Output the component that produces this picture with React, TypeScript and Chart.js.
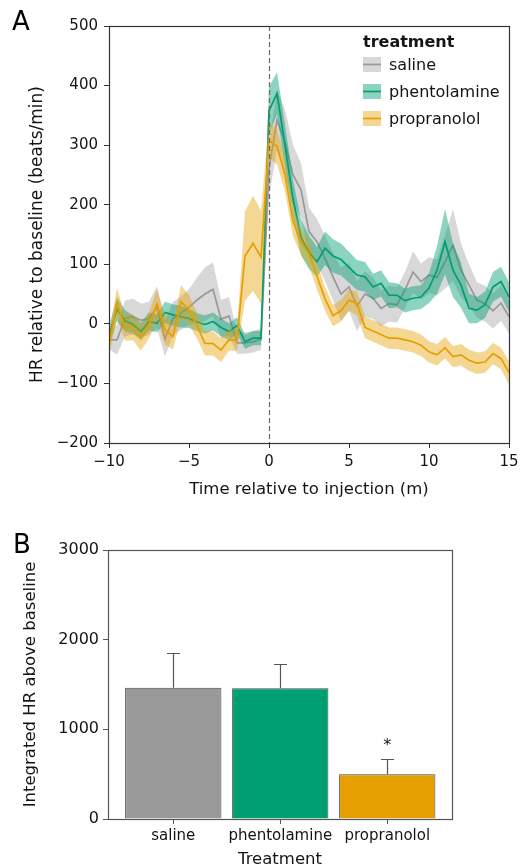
import React, { useEffect, useRef } from "react";
import { Chart, registerables } from "chart.js";
Chart.register(...registerables);

const FONT = "'DejaVu Sans', sans-serif";
const TEXT = "#141414";

// ---------- Panel A data ----------
const times = [
  -10, -9.5, -9, -8.5, -8, -7.5, -7, -6.5, -6, -5.5, -5, -4.5, -4, -3.5, -3, -2.5, -2, -1.5, -1, -0.5,
  0, 0.5, 1, 1.5, 2, 2.5, 3, 3.5, 4, 4.5, 5, 5.5, 6, 6.5, 7, 7.5, 8, 8.5, 9, 9.5,
  10, 10.5, 11, 11.5, 12, 12.5, 13, 13.5, 14, 14.5, 15,
];

const salineMean = [
  -27, -27, 9, 12, 6, 9, 28, -25, 9, 18, 28, 40, 50, 58, 8, 13, -32, -32, -30, -26,
  260, 342, 305, 250, 225, 155, 138, 110, 79, 50, 62, 30, 50, 43, 26, 34, 32, 57, 87, 71,
  82, 78, 104, 132, 90, 65, 40, 34, 22, 35, 12,
];
const salineErr = [
  15, 25, 30, 30, 28, 28, 35, 30, 28, 28, 30, 38, 45, 45, 32, 32, 18, 18, 18, 18,
  45, 50, 55, 50, 45, 40, 38, 38, 40, 45, 40, 42, 38, 35, 30, 30, 30, 30, 35, 30,
  30, 30, 45, 60, 45, 35, 30, 30, 30, 30, 28,
];

const phentolamineMean = [
  -20, 25, 5, -1, -13, 4, 1, 19, 15, 12, 9, 3, -1, 4, -6, -13, -3, -30, -24, -24,
  358, 387, 300, 210, 145, 120, 104, 127, 114, 108, 95, 82, 79, 62, 68, 48, 48, 39, 43, 45,
  60, 90, 138, 90, 65, 26, 23, 32, 62, 71, 45,
];
const phentolamineErr = [
  15, 20, 18, 15, 15, 15, 15, 18, 18, 18, 16, 15, 15, 15, 15, 14, 14, 12, 12, 12,
  40, 35, 35, 32, 30, 28, 25, 28, 28, 27, 26, 25, 25, 22, 22, 22, 20, 20, 20, 20,
  25, 40, 55, 45, 38, 25, 22, 22, 25, 25, 25,
];

const propranololMean = [
  -35, 35, -6, -6, -23, -2, 33, -10, -21, 37, 23, -3, -33, -33, -44, -27, -27, 114, 135, 112,
  308, 298, 250, 172, 137, 118, 80, 42, 14, 22, 40, 34, -6, -12, -18, -24, -24, -27, -30, -36,
  -47, -52, -40, -55, -52, -61, -66, -64, -50, -58, -82,
];
const propranololErr = [
  20, 25, 22, 22, 22, 22, 25, 25, 22, 28, 25, 22, 20, 20, 20, 18, 18, 75, 80, 78,
  30, 30, 28, 25, 22, 22, 22, 20, 18, 18, 18, 20, 18, 18, 18, 18, 18, 18, 18, 18,
  18, 18, 18, 18, 18, 18, 18, 18, 18, 18, 20,
];

const seriesNames = ["saline", "phentolamine", "propranolol"];
const xTicksA = [-10, -5, 0, 5, 10, 15];
const yTicksA = [-200, -100, 0, 100, 200, 300, 400, 500];

// ---------- Panel B data ----------
const barCategories = ["saline", "phentolamine", "propranolol"];
const barValues = [1464, 1457, 498];
const barErrors = [391, 275, 168];
const yTicksB = [0, 1000, 2000, 3000];

// ---------- styles ----------
const lineColors = ["#999999", "#009E73", "#E69F00"];
const bandColors = ["rgba(153,153,153,0.38)", "rgba(0,158,115,0.45)", "rgba(230,159,0,0.42)"];
const barColors = ["#999999", "#009E73", "#E69F00"];

const fmt = (v: number) => (v < 0 ? "\u2212" + Math.abs(v) : String(v));

function seriesSets(mean: number[], err: number[], idx: number, order: number) {
  const lo = times.map((t, i) => ({ x: t, y: mean[i] - err[i] }));
  const hi = times.map((t, i) => ({ x: t, y: mean[i] + err[i] }));
  const mid = times.map((t, i) => ({ x: t, y: mean[i] }));
  return [
    { data: lo, borderColor: "rgba(0,0,0,0)", borderWidth: 1, pointRadius: 0, fill: false, order: order + 1, tension: 0 },
    { data: hi, borderColor: "rgba(0,0,0,0)", borderWidth: 1, pointRadius: 0, fill: "-1", backgroundColor: bandColors[idx], order: order + 1, tension: 0 },
    { data: mid, borderColor: lineColors[idx], borderWidth: 1.7, pointRadius: 0, fill: false, order, tension: 0 },
  ];
}

const framePlugin = (color: string, width: number) => ({
  id: "frame",
  afterDraw(chart: any) {
    const { ctx, chartArea: a } = chart;
    ctx.save();
    ctx.strokeStyle = color;
    ctx.lineWidth = width;
    ctx.strokeRect(Math.round(a.left) + 0.5, Math.round(a.top) + 0.5, Math.round(a.right - a.left), Math.round(a.bottom - a.top));
    ctx.restore();
  },
});

const letterPlugin = (letter: string, x: number, y: number) => ({
  id: "letter" + letter,
  afterDraw(chart: any) {
    const ctx = chart.ctx;
    ctx.save();
    ctx.fillStyle = "#000";
    ctx.font = "26px " + FONT;
    ctx.textBaseline = "alphabetic";
    ctx.textAlign = "left";
    ctx.fillText(letter, x, y);
    ctx.restore();
  },
});

const zeroLinePlugin = {
  id: "zeroLine",
  afterDatasetsDraw(chart: any) {
    const { ctx, chartArea: a, scales } = chart;
    const x = Math.round(scales.x.getPixelForValue(0)) + 0.5;
    ctx.save();
    ctx.strokeStyle = "#6e6e6e";
    ctx.lineWidth = 1.3;
    ctx.setLineDash([5, 3]);
    ctx.beginPath();
    ctx.moveTo(x, a.top);
    ctx.lineTo(x, a.bottom);
    ctx.stroke();
    ctx.restore();
  },
};

const legendPlugin = {
  id: "legendA",
  afterDraw(chart: any) {
    const ctx = chart.ctx;
    const x0 = 363;
    ctx.save();
    ctx.fillStyle = TEXT;
    ctx.font = "bold 16px " + FONT;
    ctx.textBaseline = "alphabetic";
    ctx.fillText("treatment", x0, 47);
    const centers = [64.5, 91.5, 118.5];
    ctx.font = "16px " + FONT;
    seriesNames.forEach((name, i) => {
      const cy = centers[i];
      ctx.fillStyle = bandColors[i];
      ctx.fillRect(x0, cy - 7.5, 18, 15);
      ctx.strokeStyle = lineColors[i];
      ctx.lineWidth = 1.7;
      ctx.beginPath();
      ctx.moveTo(x0, cy);
      ctx.lineTo(x0 + 18, cy);
      ctx.stroke();
      ctx.fillStyle = TEXT;
      ctx.fillText(name, x0 + 26, cy + 5);
    });
    ctx.restore();
  },
};

const errorBarPlugin = {
  id: "errorBars",
  afterDatasetsDraw(chart: any) {
    const { ctx, scales } = chart;
    ctx.save();
    ctx.strokeStyle = "#555";
    ctx.lineWidth = 1.2;
    barValues.forEach((v, i) => {
      const x = Math.round(scales.x.getPixelForValue(i)) + 0.5;
      const yTop = scales.y.getPixelForValue(v);
      const yErr = Math.round(scales.y.getPixelForValue(v + barErrors[i])) + 0.5;
      ctx.beginPath();
      ctx.moveTo(x, yTop);
      ctx.lineTo(x, yErr);
      ctx.moveTo(x - 6.5, yErr);
      ctx.lineTo(x + 6.5, yErr);
      ctx.stroke();
    });
    // significance star on propranolol
    const xs = scales.x.getPixelForValue(2);
    const ys = scales.y.getPixelForValue(barValues[2] + barErrors[2]);
    ctx.fillStyle = TEXT;
    ctx.font = "16px " + FONT;
    ctx.textAlign = "center";
    ctx.textBaseline = "alphabetic";
    ctx.fillText("*", xs, ys - 9);
    ctx.restore();
  },
};

export default function App() {
  const refA = useRef<HTMLCanvasElement>(null);
  const refB = useRef<HTMLCanvasElement>(null);

  useEffect(() => {
    const datasets = [
      ...seriesSets(salineMean, salineErr, 0, 4),
      ...seriesSets(phentolamineMean, phentolamineErr, 1, 2),
      ...seriesSets(propranololMean, propranololErr, 2, 0),
    ];

    const tickFontA = { family: FONT, size: 15 };
    const chartA = new Chart(refA.current as HTMLCanvasElement, {
      type: "line",
      data: { datasets: datasets as any },
      options: {
        animation: false,
        responsive: false,
        maintainAspectRatio: false,
        devicePixelRatio: 1,
        layout: { padding: { left: 23, top: 26, right: 18, bottom: 0 } },
        plugins: { legend: { display: false }, tooltip: { enabled: false } },
        scales: {
          x: {
            type: "linear",
            min: -10,
            max: 15,
            afterBuildTicks: (s: any) => {
              s.ticks = xTicksA.map((v) => ({ value: v }));
            },
            afterFit: (s: any) => {
              s.height = 61;
            },
            ticks: { font: tickFontA, color: TEXT, padding: 5, maxRotation: 0, autoSkip: false, callback: (v: any) => fmt(Number(v)) },
            grid: { drawOnChartArea: false, drawTicks: true, tickLength: 5, color: "#333" },
            border: { display: false },
            title: { display: true, text: "Time relative to injection (m)", font: { family: FONT, size: 16.5 }, color: TEXT, padding: { top: 4, bottom: 4 } },
          },
          y: {
            type: "linear",
            min: -200,
            max: 500,
            afterBuildTicks: (s: any) => {
              s.ticks = yTicksA.map((v) => ({ value: v }));
            },
            afterFit: (s: any) => {
              s.width = 86;
            },
            ticks: { font: tickFontA, color: TEXT, padding: 6, autoSkip: false, callback: (v: any) => fmt(Number(v)) },
            grid: { drawOnChartArea: false, drawTicks: true, tickLength: 5, color: "#333" },
            border: { display: false },
            title: { display: true, text: "HR relative to baseline (beats/min)", font: { family: FONT, size: 17 }, color: TEXT, padding: { top: 4, bottom: 4 } },
          },
        },
      },
      plugins: [zeroLinePlugin, framePlugin("#333", 1.2), legendPlugin, letterPlugin("A", 12, 30)],
    } as any);

    const chartB = new Chart(refB.current as HTMLCanvasElement, {
      type: "bar",
      data: {
        datasets: [
          {
            data: barCategories.map((_, i) => ({ x: i, y: barValues[i] })),
            backgroundColor: barColors,
            borderColor: "#4a4a4a",
            borderWidth: 1,
            barPercentage: 0.9,
            categoryPercentage: 1,
          },
        ],
      },
      options: {
        animation: false,
        responsive: false,
        maintainAspectRatio: false,
        devicePixelRatio: 1,
        layout: { padding: { left: 17, top: 50, right: 75, bottom: 0 } },
        plugins: { legend: { display: false }, tooltip: { enabled: false } },
        scales: {
          x: {
            type: "linear",
            min: -0.61,
            max: 2.605,
            offset: false,
            afterBuildTicks: (s: any) => {
              s.ticks = barCategories.map((_, i) => ({ value: i }));
            },
            afterFit: (s: any) => {
              s.height = 49;
            },
            ticks: { font: { family: FONT, size: 15 }, color: TEXT, padding: 3, maxRotation: 0, autoSkip: false, callback: (v: any) => barCategories[Number(v)] },
            grid: { drawOnChartArea: false, drawTicks: true, tickLength: 5, color: "#555", offset: false },
            border: { display: false },
            title: { display: true, text: "Treatment", font: { family: FONT, size: 16.5, lineHeight: 1 }, color: TEXT, padding: { top: 0, bottom: 0 } },
          },
          y: {
            type: "linear",
            min: 0,
            max: 3000,
            afterBuildTicks: (s: any) => {
              s.ticks = yTicksB.map((v) => ({ value: v }));
            },
            afterFit: (s: any) => {
              s.width = 91;
            },
            ticks: { font: { family: FONT, size: 16 }, color: TEXT, padding: 4, autoSkip: false, callback: (v: any) => String(v) },
            grid: { drawOnChartArea: false, drawTicks: true, tickLength: 5, color: "#555" },
            border: { display: false },
            title: { display: true, text: "Integrated HR above baseline", font: { family: FONT, size: 16.5 }, color: TEXT, padding: { top: 4, bottom: 4 } },
          },
        },
      },
      plugins: [errorBarPlugin, framePlugin("#555", 1.2), letterPlugin("B", 13, 53)],
    } as any);

    return () => {
      chartA.destroy();
      chartB.destroy();
    };
  }, []);

  return (
    <div style={{ position: "absolute", left: 0, top: 0, width: 527, height: 868, background: "#fff", overflow: "hidden" }}>
      <canvas ref={refA} width={527} height={504} style={{ position: "absolute", left: 0, top: 0, width: 527, height: 504 }} />
      <canvas ref={refB} width={527} height={368} style={{ position: "absolute", left: 0, top: 500, width: 527, height: 368 }} />
    </div>
  );
}
